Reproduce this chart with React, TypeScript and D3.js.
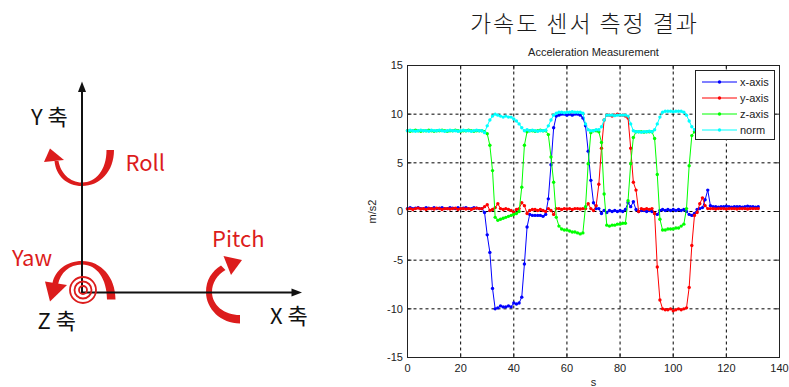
import * as d3 from "d3";

// chart text
const TITLE = "가속도 센서 측정 결과";
const PLOT_TITLE = "Acceleration Measurement";
const X_LABEL = "s";
const Y_LABEL = "m/s2";
const X_TICKS = [0, 20, 40, 60, 80, 100, 120, 140];
const Y_TICKS = [-15, -10, -5, 0, 5, 10, 15];
const SERIES_NAMES = ["x-axis", "y-axis", "z-axis", "norm"];
const SERIES_COLORS = ["#0000ff", "#ff0000", "#00ff00", "#00ffff"];

// one sample per second, 0..132 s
const TIME = d3.range(0, 133);

const X_AXIS = [
  0.3, 0.4, 0.3, 0.35, 0.4, 0.3, 0.3, 0.4, 0.35, 0.3, 0.4, 0.3, 0.35, 0.4, 0.3, 0.3, 0.4, 0.35, 0.3, 0.4,
  0.3, 0.35, 0.4, 0.3, 0.3, 0.4, 0.35, 0.3, 0.3,
  -0.1, -2.4, -4.2, -7.9, -10.0, -9.9, -9.7, -9.8, -9.8, -9.7, -9.8, -9.4, -9.5, -9.4, -8.8, -5.4, -1.6, -0.3,
  -0.4, -0.4, -0.4, -0.4, -0.5, -0.3,
  1.3, 4.8, 8.6, 9.8, 9.9, 10.0, 10.0, 9.9, 10.0, 9.9, 10.0, 10.0, 9.9, 9.6,
  8.8, 6.2, 3.2, 0.9, 0.3, 0.3, -0.2, 0.1, -0.1, 0.1, 0.0, 0.1, 0.0, 0.1, 0.0, 0.2,
  0.9, 0.5, 1.0, 0.2, 0.0, 0.1, 0.1, 0.0, 0.1, 0.0, -0.2, -0.3,
  0.1, 0.2, 0.1, 0.2, 0.1, 0.2, 0.1, 0.2, 0.1, 0.2, 0.0, -0.3, -0.4, -0.2, 0.2, 0.3, 0.4, 1.2, 2.2, 0.6,
  0.5, 0.5, 0.45, 0.5, 0.5, 0.55, 0.5, 0.45, 0.5, 0.5, 0.5, 0.45, 0.5, 0.55, 0.5, 0.5, 0.45, 0.5,
];

const Y_AXIS = [
  0.25, 0.3, 0.2, 0.3, 0.35, 0.25, 0.3, 0.2, 0.3, 0.3, 0.25, 0.35, 0.3, 0.2, 0.3, 0.3, 0.25, 0.3, 0.35, 0.2,
  0.3, 0.3, 0.25, 0.3, 0.2, 0.3, 0.35, 0.3, 0.3,
  0.5, 0.7, 0.1, 0.2, 0.4, 0.8, 0.3, 0.2, 0.3, 0.2, 0.1, -0.1, 0.2, 0.3, 0.9, 0.6, -0.2, 0.1, 0.2, 0.2,
  0.1, 0.2, 0.1, 0.0, 0.3, 0.1, -0.3, 0.3,
  0.3, 0.2, 0.3, 0.25, 0.3, 0.2, 0.3, 0.3, 0.25, 0.3, 0.3, 0.8, 0.3, 0.1, 0.6,
  2.8, 6.5, 9.4, 9.9, 9.9, 9.8, 9.9, 10.0, 9.9, 9.9, 9.8, 9.6, 6.5, 3.0, 2.2, 0.0,
  0.3, 0.2, 0.3, 0.2, 0.3, -0.2, -5.7, -9.1, -10.0, -10.1, -10.1, -10.0, -10.2, -10.1, -10.0, -10.1, -10.0,
  -9.9, -7.8, -3.5, -0.4, -0.1, 0.8, 1.4, 0.6, 0.3,
  0.3, 0.3, 0.25, 0.3, 0.3, 0.3, 0.25, 0.3, 0.3, 0.3, 0.25, 0.3, 0.3, 0.3, 0.25, 0.3, 0.3, 0.3, 0.3,
];

const Z_AXIS = [
  8.3, 8.25, 8.3, 8.35, 8.3, 8.25, 8.3, 8.3, 8.35, 8.3, 8.25, 8.3, 8.3, 8.35, 8.3, 8.25, 8.3, 8.3, 8.35, 8.3,
  8.25, 8.3, 8.3, 8.35, 8.3, 8.25, 8.3, 8.3, 8.3,
  8.2, 8.0, 6.8, 4.2, -0.6, -0.9, -0.8, -0.7, -0.6, -0.5, -0.4, -0.3, -0.2, 0.0, 2.5, 6.8, 8.2,
  8.3, 8.3, 8.25, 8.3, 8.35, 8.3, 8.3,
  7.9, 5.6, 3.0, -0.6, -1.5, -1.8, -1.9, -1.9, -2.0, -2.1, -2.1, -2.2, -2.3, -2.2,
  0.5, 4.9, 8.1, 8.3, 8.3, 8.2, 7.1, 1.8, -1.4, -1.5, -1.4, -1.4, -1.3, -1.3, -1.2, -1.2,
  1.1, 4.9, 7.6, 8.2, 8.2, 8.2, 8.15, 8.2, 8.2, 8.2,
  7.5, 3.8, -0.8, -1.9, -1.9, -1.8, -1.8, -1.8, -1.7, -1.7, -1.5, -1.3, 0.3, 4.7, 7.8,
  8.2, 8.3, 8.3, 8.3, 8.3, 8.3, 8.3, 8.3, 8.3, 8.3, 8.3, 8.3, 8.3, 8.3, 8.3, 8.3, 8.3, 8.3, 8.3, 8.3,
  8.3, 8.3, 8.3, 8.3, 8.3,
];

const NORM = [
  8.3, 8.35, 8.3, 8.25, 8.3, 8.35, 8.3, 8.3, 8.25, 8.35, 8.3, 8.3, 8.35, 8.3, 8.25, 8.3, 8.35, 8.3, 8.3, 8.25,
  8.3, 8.35, 8.3, 8.3, 8.25, 8.3, 8.35, 8.3, 8.3,
  8.1, 8.8, 9.4, 9.8, 10.0, 9.9, 9.8, 9.7, 9.8, 9.7, 9.7, 9.5, 9.3, 9.0, 8.6, 8.3, 8.4, 8.3, 8.35, 8.3,
  8.25, 8.3, 8.3, 8.35,
  8.8, 9.4, 9.9, 10.1, 10.2, 10.2, 10.15, 10.2, 10.2, 10.25, 10.2, 10.2, 10.2, 10.1,
  9.0, 8.4, 8.3, 8.3, 8.4, 8.4, 8.7, 9.4, 9.9, 9.9, 9.9, 9.85, 9.9, 9.9, 9.9, 9.9,
  9.8, 9.0, 8.3, 8.2, 8.2, 8.15, 8.2, 8.2, 8.25, 8.2,
  8.4, 9.0, 9.7, 10.2, 10.3, 10.3, 10.3, 10.25, 10.3, 10.3, 10.3, 10.2, 9.9, 9.3, 8.7,
  8.4, 8.3, 8.3, 8.3, 8.3, 8.3, 8.3, 8.3, 8.3, 8.3, 8.3, 8.3, 8.3, 8.3, 8.3, 8.3, 8.3, 8.3, 8.3, 8.3,
  8.3, 8.3, 8.3, 8.3, 8.3,
];

const SERIES = [X_AXIS, Y_AXIS, Z_AXIS, NORM];

const W = 789, H = 387;
const frame = { left: 407.5, right: 779.5, top: 65.5, bottom: 357.5 };
const sans = "'Liberation Sans', Arial, sans-serif";
const kr = "'Noto Sans CJK KR', 'Noto Sans', sans-serif";
const RED = "#dc1c1c";

function AxisDiagram() {
  const txt = { fontFamily: kr, fontSize: 22 };
  return (
    <g>
      {/* rotation marks */}
      <path d="M114,150 C114,171.5 100,186 82,186 C67,186 56,176 54.5,161 L58.5,161 C60.5,173 70,182.5 82,182.5 C96,182.5 106.5,170 106.5,150 Z" fill={RED} />
      <polygon points="50,148.5 44,162 64,160" fill={RED} />
      <path d="M115.5,299.5 C115.5,277 101,261 82,261 C66,261 55,271 52.5,283 L58,284.5 C60.5,273 69,264.5 82,264.5 C97,264.5 107,279 107,299.5 Z" fill={RED} />
      <polygon points="50,301.5 45,281.5 67,285" fill={RED} />
      <path d="M240,323.5 C221,323.5 206,309 206,292 C206,280 212,271 221,265.5 L225.5,270 C217,275 212,283 212,292 C212,305 224,315 240,315 Z" fill={RED} />
      <polygon points="242,260 223.5,256 231,275" fill={RED} />

      {/* axes */}
      <line x1={82} y1={293} x2={82} y2={90} stroke="#111" strokeWidth={2} />
      <polygon points="82,81.5 78,92 86,92" fill="#111" />
      <line x1={81} y1={292.5} x2={293} y2={292.5} stroke="#111" strokeWidth={2} />
      <polygon points="302,292.5 291.5,288.5 291.5,296.5" fill="#111" />
      {[4, 8.5, 13].map(r => (
        <circle key={r} cx={83} cy={290} r={r} fill="none" stroke={RED} strokeWidth={1.8} />
      ))}

      <text x={31} y={125} {...txt} fill="#111">Y 축</text>
      <text x={37.5} y={329} {...txt} fill="#111">Z 축</text>
      <text x={270} y={324} {...txt} fill="#111">X 축</text>
      <text x={125.5} y={170.5} {...txt} fill={RED}>Roll</text>
      <text x={212} y={247} {...txt} fill={RED}>Pitch</text>
      <text x={12} y={265.5} {...txt} fill={RED}>Yaw</text>
    </g>
  );
}

function AccelChart() {
  const x = d3.scaleLinear().domain([0, 140]).range([frame.left, frame.right]);
  const y = d3.scaleLinear().domain([-15, 15]).range([frame.bottom, frame.top]);
  const line = d3.line<number>().x((_, i) => x(TIME[i])).y(d => y(d));
  const tick = 4;
  const legend = { x: 695.5, y: 70.5, w: 79, h: 69 };

  return (
    <g>
      <text x={583.5} y={32} textAnchor="middle" fontFamily={kr} fontSize={23} fontWeight={300} fill="#1a1a1a"
        textLength={227} lengthAdjust="spacing">{TITLE}</text>
      <text x={(frame.left + frame.right) / 2} y={56} textAnchor="middle" fontFamily={sans} fontSize={11} fill="#222">
        {PLOT_TITLE}
      </text>

      {/* grid */}
      {X_TICKS.slice(1, -1).map(t => (
        <line key={"gx" + t} x1={x(t)} x2={x(t)} y1={frame.top} y2={frame.bottom}
          stroke="#000" strokeWidth={1} strokeDasharray="3,3" />
      ))}
      {Y_TICKS.slice(1, -1).map(t => (
        <line key={"gy" + t} y1={y(t)} y2={y(t)} x1={frame.left} x2={frame.right}
          stroke="#000" strokeWidth={1} strokeDasharray="3,3" />
      ))}

      {/* series, norm drawn last */}
      {SERIES.map((vals, s) => (
        <g key={SERIES_NAMES[s]}>
          <path d={line(vals) ?? ""} fill="none" stroke={SERIES_COLORS[s]} strokeWidth={1} />
          {vals.map((v, i) => (
            <circle key={i} cx={x(TIME[i])} cy={y(v)} r={1.7} fill={SERIES_COLORS[s]} />
          ))}
        </g>
      ))}

      {/* box + ticks */}
      <rect x={frame.left} y={frame.top} width={frame.right - frame.left} height={frame.bottom - frame.top}
        fill="none" stroke="#222" strokeWidth={1} />
      {X_TICKS.map(t => (
        <g key={"tx" + t}>
          <line x1={x(t)} x2={x(t)} y1={frame.bottom} y2={frame.bottom - tick} stroke="#222" />
          <line x1={x(t)} x2={x(t)} y1={frame.top} y2={frame.top + tick} stroke="#222" />
          <text x={x(t)} y={372} textAnchor="middle" fontFamily={sans} fontSize={11} fill="#222">{t}</text>
        </g>
      ))}
      {Y_TICKS.map(t => (
        <g key={"ty" + t}>
          <line y1={y(t)} y2={y(t)} x1={frame.left} x2={frame.left + tick} stroke="#222" />
          <line y1={y(t)} y2={y(t)} x1={frame.right} x2={frame.right - tick} stroke="#222" />
          <text x={403} y={y(t)} dy="0.35em" textAnchor="end" fontFamily={sans} fontSize={11} fill="#222">{t}</text>
        </g>
      ))}
      <text x={(frame.left + frame.right) / 2} y={386} textAnchor="middle" fontFamily={sans} fontSize={11} fill="#222">
        {X_LABEL}
      </text>
      <text transform={`translate(376,${y(0)}) rotate(-90)`} textAnchor="middle" fontFamily={sans} fontSize={11} fill="#222">
        {Y_LABEL}
      </text>

      {/* legend */}
      <rect x={legend.x} y={legend.y} width={legend.w} height={legend.h} fill="#fff" stroke="#222" />
      {SERIES_NAMES.map((name, s) => {
        const ly = legend.y + 11.5 + s * 16;
        return (
          <g key={"lg" + name}>
            <line x1={702} x2={737} y1={ly} y2={ly} stroke={SERIES_COLORS[s]} />
            <circle cx={719.5} cy={ly} r={1.7} fill={SERIES_COLORS[s]} />
            <text x={740} y={ly} dy="0.35em" fontFamily={sans} fontSize={11} fill="#222">{name}</text>
          </g>
        );
      })}
    </g>
  );
}

export default function App() {
  return (
    <svg width={W} height={H} viewBox={`0 0 ${W} ${H}`}
      style={{ position: "absolute", left: 0, top: 0, background: "#fff" }}>
      <rect width={W} height={H} fill="#fff" />
      <AxisDiagram />
      <AccelChart />
    </svg>
  );
}
